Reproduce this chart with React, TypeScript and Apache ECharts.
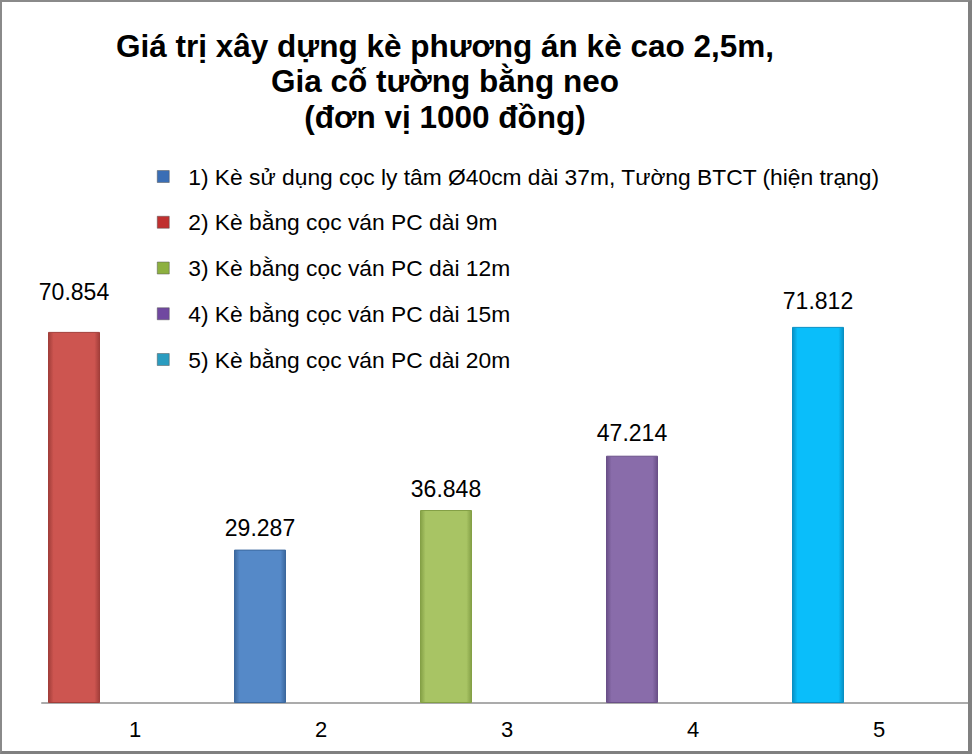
import React, { useEffect, useRef } from "react";
import * as echarts from "echarts";

const categories = ["1", "2", "3", "4", "5"];
const seriesNames = [
  "1) Kè sử dụng cọc ly tâm Ø40cm dài 37m, Tường BTCT (hiện trạng)",
  "2) Kè bằng cọc ván PC dài 9m",
  "3) Kè bằng cọc ván PC dài 12m",
  "4) Kè bằng cọc ván PC dài 15m",
  "5) Kè bằng cọc ván PC dài 20m",
];
// values per series, by category ("-" = no bar in that category)
const series1Values = ["-", 29.287, "-", "-", "-"];
const series2Values = [70.854, "-", "-", "-", "-"];
const series3Values = ["-", "-", 36.848, "-", "-"];
const series4Values = ["-", "-", "-", 47.214, "-"];
const series5Values = ["-", "-", "-", "-", 71.812];
const emptySlotValues = [0, 0, 0, 0, 0];
const titleLines = [
  "Giá trị xây dựng kè phương án kè cao 2,5m,",
  "Gia cố tường bằng neo",
  "(đơn vị 1000 đồng)",
];

const allValues = [series1Values, series2Values, series3Values, series4Values, series5Values];

const FONT = "'Liberation Sans', Arial, Helvetica, sans-serif";
const barColors = ["#5589C8", "#CD5550", "#A8C464", "#896CAA", "#0ABEFA"];
const barEdges = ["#3C689E", "#A23E3A", "#84A046", "#6A5088", "#0890C4"];
const legendColors = ["#3A6EB5", "#C0302F", "#8DB040", "#7048A0", "#2A9CC0"];
const labelDistances = [10, 28, 10, 11, 14];

export default function App() {
  const ref = useRef<HTMLDivElement>(null);

  useEffect(() => {
    document.body.style.margin = "0";
    if (!ref.current) return;
    const chart = echarts.init(ref.current, undefined, { renderer: "svg" });

    const mainSeries = allValues.map((vals, i) => ({
      name: seriesNames[i],
      type: "bar",
      stack: "v",
      barWidth: 52,
      barGap: "0%",
      data: vals,
      itemStyle: {
        color: new echarts.graphic.LinearGradient(0, 0, 1, 0, [
          { offset: 0, color: barEdges[i] },
          { offset: 0.1, color: barColors[i] },
          { offset: 0.9, color: barColors[i] },
          { offset: 1, color: barEdges[i] },
        ]),
        borderColor: barEdges[i],
        borderWidth: 1,
      },
      label: {
        show: true,
        position: "top",
        distance: labelDistances[i],
        fontSize: 23,
        fontFamily: FONT,
        color: "#000",
        formatter: (p: any) => (typeof p.value === "number" ? p.value.toFixed(3) : ""),
      },
    }));

    chart.setOption({
      animation: false,
      backgroundColor: "#fff",
      graphic: [
        {
          type: "text",
          x: 445,
          y: 28,
          style: {
            text: titleLines.join("\n"),
            textAlign: "center",
            textVerticalAlign: "top",
            font: `bold 31.5px ${FONT}`,
            lineHeight: 35.5,
            fill: "#000",
          },
        },
      ],
      legend: {
        orient: "vertical",
        left: 152,
        top: 160,
        itemWidth: 12,
        itemHeight: 12,
        itemGap: 22.75,
        icon: "rect",
        selectedMode: false,
        data: seriesNames.map((n, i) => ({
          name: n,
          itemStyle: { color: legendColors[i], borderColor: "#555", borderWidth: 0.5 },
        })),
        textStyle: {
          fontSize: 22.8,
          lineHeight: 23,
          fontFamily: FONT,
          color: "#000",
          padding: [0, 0, 0, 14],
        },
      },
      grid: { left: 42, right: 0, top: 284, bottom: 51, containLabel: false },
      xAxis: {
        type: "category",
        data: categories,
        axisLine: { show: true, lineStyle: { color: "#ABABAB", width: 2 } },
        axisTick: { show: false },
        axisLabel: { fontSize: 22, fontFamily: FONT, color: "#000", margin: 15 },
        splitLine: { show: false },
      },
      yAxis: {
        type: "value",
        min: 0,
        max: 80,
        show: false,
        splitLine: { show: false },
      },
      series: [
        ...mainSeries,
        {
          name: "empty",
          type: "bar",
          barWidth: 122,
          barGap: "0%",
          data: emptySlotValues,
          silent: true,
          itemStyle: { color: "rgba(0,0,0,0)" },
          label: { show: false },
        },
      ],
    });

    return () => chart.dispose();
  }, []);

  return (
    <div style={{ position: "relative", width: 972, height: 754, overflow: "hidden" }}>
      <div ref={ref} style={{ position: "absolute", left: 0, top: 0, width: 972, height: 754 }} />
      <div
        style={{
          position: "absolute",
          left: 0,
          top: 0,
          width: 972,
          height: 754,
          boxSizing: "border-box",
          borderTop: "2px solid #8A8A8A",
          borderLeft: "2px solid #8A8A8A",
          borderRight: "4px solid #808080",
          borderBottom: "3px solid #808080",
          pointerEvents: "none",
        }}
      />
    </div>
  );
}
